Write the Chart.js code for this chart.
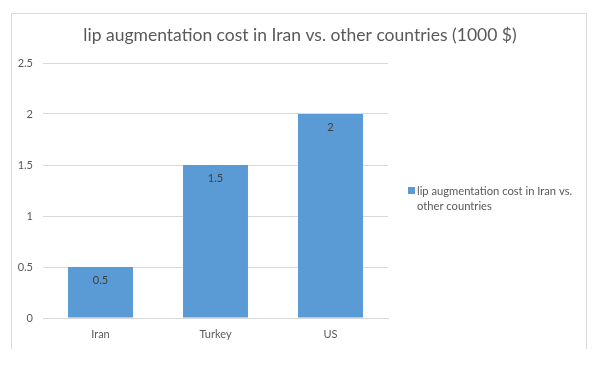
<!DOCTYPE html>
<html>
<head>
<meta charset="utf-8">
<script src="https://cdn.jsdelivr.net/npm/chart.js@4/dist/chart.umd.min.js"></script>
<style>
  html, body { margin: 0; padding: 0; background: #fff; }
  #wrap { position: relative; width: 601px; height: 370px; }
</style>
</head>
<body>
<div id="wrap"><canvas id="barChart" width="601" height="370"></canvas></div>
<script>
const countries = ["Iran", "Turkey", "US"];
const costs = [0.5, 1.5, 2];
const seriesName = "lip augmentation cost in Iran vs. other countries";
const chartTitle = "lip augmentation cost in Iran vs. other countries (1000 $)";
const legendLines = ["lip augmentation cost in Iran vs.", "other countries"];

const barColor = "#5B9BD5";
const textColor = "#595959";

// frame, title, legend and value labels drawn on the canvas
const excelLook = {
  id: "excelLook",
  beforeDraw(chart) {
    const ctx = chart.ctx;
    ctx.save();
    ctx.fillStyle = "#fff";
    ctx.fillRect(0, 0, chart.width, chart.height);
    // open frame: left, top and right edges only
    ctx.strokeStyle = "#D9D9D9";
    ctx.lineWidth = 1;
    ctx.beginPath();
    ctx.moveTo(11.5, 349);
    ctx.lineTo(11.5, 13.5);
    ctx.lineTo(586.5, 13.5);
    ctx.lineTo(586.5, 349);
    ctx.stroke();
    ctx.restore();
  },
  afterDraw(chart) {
    const ctx = chart.ctx;
    ctx.save();
    // title
    ctx.fillStyle = textColor;
    ctx.font = "17.5px Lato";
    ctx.textAlign = "center";
    ctx.textBaseline = "middle";
    ctx.fillText(chartTitle, 300, 35);

    // value labels inside the bars
    const meta = chart.getDatasetMeta(0);
    ctx.font = "11px Lato";
    ctx.fillStyle = "#404040";
    meta.data.forEach((bar, i) => {
      ctx.fillText(String(costs[i]), bar.x, bar.y + 13);
    });

    // legend
    ctx.fillStyle = barColor;
    ctx.fillRect(408, 187, 7, 7);
    ctx.fillStyle = textColor;
    ctx.font = "11.2px Lato";
    ctx.textAlign = "left";
    legendLines.forEach((line, i) => {
      ctx.fillText(line, 417, 191 + i * 15);
    });
    ctx.restore();
  }
};

const ctx = document.getElementById("barChart").getContext("2d");
new Chart(ctx, {
  type: "bar",
  data: {
    labels: countries,
    datasets: [
      {
        label: seriesName,
        data: costs,
        backgroundColor: barColor,
        categoryPercentage: 1,
        barPercentage: 0.565,
      },
    ],
  },
  options: {
    responsive: false,
    animation: false,
    layout: { padding: { left: 0, top: 63, right: 213, bottom: 22 } },
    scales: {
      x: {
        grid: { display: false },
        border: { color: "#D9D9D9" },
        ticks: { color: textColor, font: { family: "Lato", size: 11 }, padding: 2 },
        afterFit: (scale) => { scale.height = 30; },
      },
      y: {
        min: 0,
        max: 2.5,
        ticks: {
          stepSize: 0.5,
          color: textColor,
          font: { family: "Lato", size: 11 },
          padding: 10,
          callback: (value) => String(value),
        },
        grid: { color: "#D9D9D9", drawTicks: false },
        border: { display: false },
        afterFit: (scale) => { scale.width = 43; },
      },
    },
    plugins: {
      legend: { display: false },
      title: { display: false },
      tooltip: { enabled: false },
    },
  },
  plugins: [excelLook],
});
</script>
</body>
</html>
